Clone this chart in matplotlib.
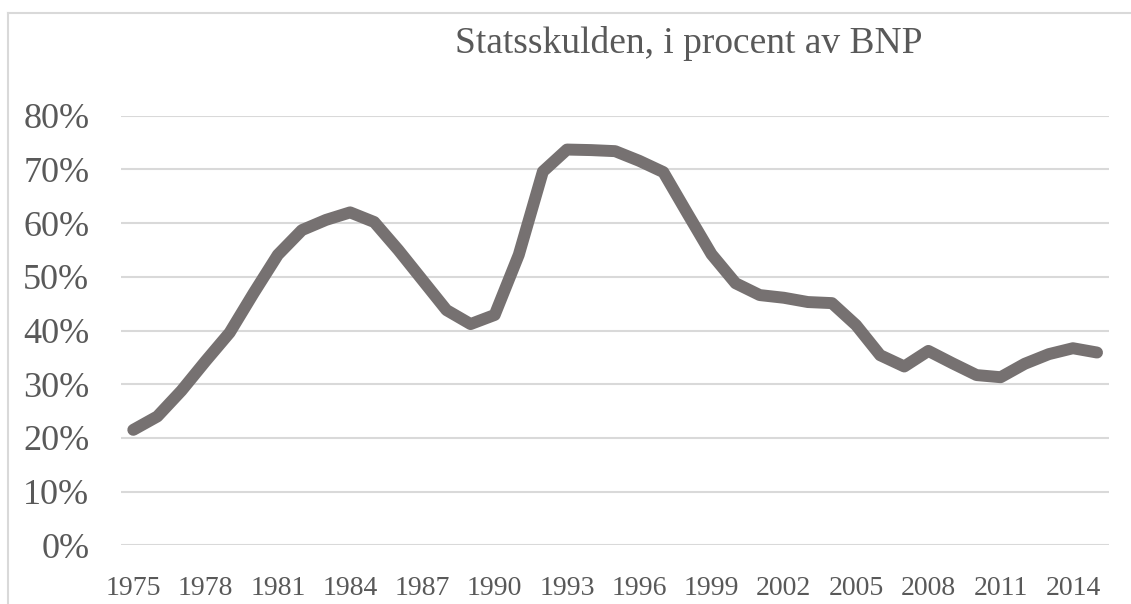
import matplotlib.pyplot as plt
from matplotlib.lines import Line2D
from matplotlib.ticker import FuncFormatter

# Data
years = list(range(1975, 2016))
skuld = [21.5, 24.0, 28.8, 34.3, 39.6, 47.0, 54.1, 58.7, 60.6, 62.0,
         60.2, 55.0, 49.4, 43.8, 41.2, 42.9, 54.1, 69.6, 73.7, 73.6,
         73.4, 71.6, 69.5, 61.8, 54.2, 48.8, 46.6, 46.1, 45.3, 45.1,
         41.0, 35.4, 33.3, 36.2, 33.9, 31.7, 31.3, 33.8, 35.6, 36.7, 35.9]
xticks = list(range(1975, 2016, 3))
yticks = [0, 10, 20, 30, 40, 50, 60, 70, 80]
title = "Statsskulden, i procent av BNP"

textcolor = "#595959"
plt.rcParams['font.family'] = ['Liberation Serif', 'DejaVu Serif']

fig = plt.figure(figsize=(11.31, 6.04), dpi=100)
ax = fig.add_axes([0.1072, 0.0972, 0.9806 - 0.1072, 0.8084 - 0.0972])

ax.plot(years, skuld, color="#767171", lw=8.6, solid_capstyle="round",
        solid_joinstyle="round", clip_on=False, zorder=3)

ax.set_xlim(1974.5, 2015.5)
ax.set_ylim(0, 80)
ax.set_xticks(xticks)
ax.set_yticks(yticks)
ax.yaxis.set_major_formatter(FuncFormatter(lambda v, p: "%d%%" % v))
ax.tick_params(axis="x", length=0, pad=22, labelsize=20, labelcolor=textcolor)
ax.tick_params(axis="y", length=0, pad=23, labelsize=26, labelcolor=textcolor)
ax.grid(axis="y", color="#d9d9d9", lw=1.5)
ax.set_axisbelow(True)
for s in ax.spines.values():
    s.set_visible(False)

# Titel (inte centrerad i Excel-bilden)
fig.text(689 / 1131, 1 - 53.3 / 604, title, ha="center", va="baseline",
         fontsize=27, color=textcolor)

# Ram runt diagrammet (bara övre och vänstra kanten syns)
fig.add_artist(Line2D([8 / 1131, 1], [1 - 13 / 604, 1 - 13 / 604],
                      color="#d9d9d9", lw=1.5, transform=fig.transFigure))
fig.add_artist(Line2D([8 / 1131, 8 / 1131], [0, 1 - 13 / 604],
                      color="#d9d9d9", lw=1.5, transform=fig.transFigure))

fig.savefig("out.png", dpi=100)
